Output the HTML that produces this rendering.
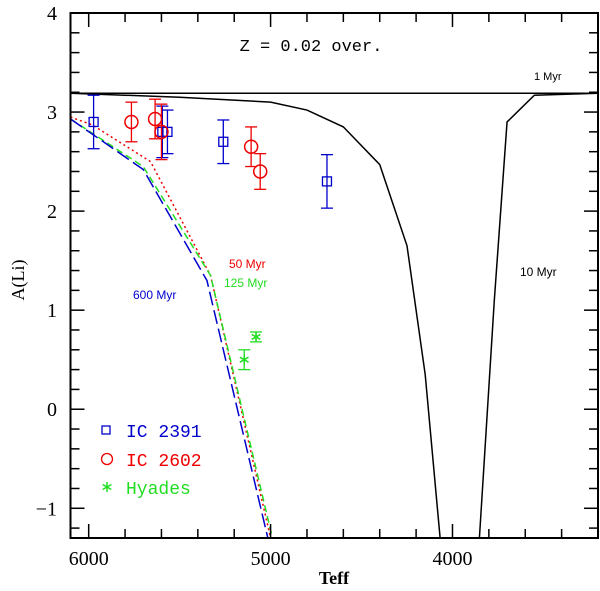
<!DOCTYPE html>
<html><head><meta charset="utf-8"><style>body{margin:0;background:#fff}svg{display:block}</style></head>
<body>
<svg id="c" width="600" height="591" font-family="Liberation Serif, serif"></svg>
<script>
const xTicks=[6000,5000,4000];
const yTicks=[-1,0,1,2,3,4];
const line1Myr=[[6100,3.19],[3200,3.19]];
const line10Myr=[[6100,3.19],[5500,3.15],[5000,3.1],[4800,3.02],[4600,2.85],[4400,2.47],[4250,1.65],[4150,0.35],[4068,-1.3],[3852,-1.3],[3770,1.1],[3700,2.9],[3550,3.17],[3200,3.19]];
const line50Myr=[[6100,2.95],[5980,2.87],[5660,2.5],[5330,1.35],[5000,-1.3]];
const line125Myr=[[6100,2.93],[5700,2.45],[5330,1.35],[4990,-1.3]];
const line600Myr=[[6100,2.93],[5700,2.42],[5350,1.3],[5015,-1.3]];
const ic2391=[[5973,2.9,0.27],[5595,2.8,0.26],[5567,2.8,0.22],[5260,2.7,0.22],[4690,2.3,0.27]];
const ic2602=[[5765,2.9,0.2],[5635,2.93,0.2],[5600,2.8,0.28],[5107,2.65,0.2],[5057,2.4,0.18]];
const hyades=[[5145,0.5,0.1],[5080,0.73,0.05]];
const X0=70.5,X1=598,Y0=13,Y1=538;
const sx=t=>X0+(6100-t)/(6100-3200)*(X1-X0);
const sy=v=>Y0+(4-v)/(5.3)*(Y1-Y0);
const svg=document.getElementById('c');const NS='http://www.w3.org/2000/svg';
function mk(tag,at,txt){const e=document.createElementNS(NS,tag);for(const k in at)e.setAttribute(k,at[k]);if(txt!=null)e.textContent=txt;svg.appendChild(e);return e;}
const cp=mk('clipPath',{id:'cp'});const r=document.createElementNS(NS,'rect');r.setAttribute('x',X0);r.setAttribute('y',Y0);r.setAttribute('width',X1-X0);r.setAttribute('height',Y1-Y0);cp.appendChild(r);
function line(pts,col,dash,name,w){const e=mk('polyline',{points:pts.map(p=>sx(p[0])+','+sy(p[1])).join(' '),fill:'none',stroke:col,'stroke-width':w||1.5,'stroke-dasharray':dash||'','clip-path':'url(#cp)'});

}
line(line1Myr,'#000','','line-1myr',1.5);
line(line10Myr,'#000','','line-10myr',1.5);
line(line50Myr,'#e00','2,3','line-50myr',1.5);
line(line125Myr,'#2d2','7,4','line-125myr',1.5);
line(line600Myr,'#00c','14,5','line-600myr',1.5);
function errbar(x,y,e,col){const X=sx(x);mk('line',{x1:X,x2:X,y1:sy(y-e),y2:sy(y+e),stroke:col,'stroke-width':1.3});[y-e,y+e].forEach(v=>mk('line',{x1:X-6,x2:X+6,y1:sy(v),y2:sy(v),stroke:col,'stroke-width':1.3}));}
ic2391.forEach(d=>{errbar(d[0],d[1],d[2],'#00c');const e=mk('rect',{x:sx(d[0])-4.5,y:sy(d[1])-4.5,width:9,height:9,fill:'none',stroke:'#00c','stroke-width':1.3});

});
ic2602.forEach(d=>{errbar(d[0],d[1],d[2],'#e00');const e=mk('circle',{cx:sx(d[0]),cy:sy(d[1]),r:6.5,fill:'none',stroke:'#e00','stroke-width':1.5});

});
function star(cx,cy,col){for(let a=0;a<3;a++){const an=a*Math.PI/3+Math.PI/2;mk('line',{x1:cx-5*Math.cos(an),y1:cy-5*Math.sin(an),x2:cx+5*Math.cos(an),y2:cy+5*Math.sin(an),stroke:col,'stroke-width':1.5});}}
hyades.forEach(d=>{errbar(d[0],d[1],d[2],'#2d2');star(sx(d[0]),sy(d[1]),'#2d2');});
const fr=mk('rect',{x:X0,y:Y0,width:X1-X0,height:Y1-Y0,fill:'none',stroke:'#000','stroke-width':2});


for(let t=6000;t>=3200;t-=200){const X=sx(t),L=(t%1000===0)?14:9;mk('line',{x1:X,x2:X,y1:Y1,y2:Y1-L,stroke:'#000','stroke-width':1.5});mk('line',{x1:X,x2:X,y1:Y0,y2:Y0+L,stroke:'#000','stroke-width':1.5});}
for(let i=-6;i<=20;i++){const v=i/5;const Y=sy(v);if(Y>Y1||Y<Y0)continue;const L=(i%5===0)?14:9;mk('line',{x1:X0,x2:X0+L,y1:Y,y2:Y,stroke:'#000','stroke-width':1.5});mk('line',{x1:X1,x2:X1-L,y1:Y,y2:Y,stroke:'#000','stroke-width':1.5});}
xTicks.forEach(t=>{const e=mk('text',{x:sx(t),y:565,'text-anchor':'middle','font-size':20},String(t));

});
yTicks.forEach(v=>{const e=mk('text',{x:57,y:sy(v)+7,'text-anchor':'end','font-size':20},v<0?'\u2212'+(-v):String(v));

});
function lab(x,y,t,col,fs,name,extra){const e=mk('text',Object.assign({x:x,y:y,fill:col,'font-size':fs},extra||{}),t);

return e;}
lab(334,584,'Teff','#000',18,'x-axis-title',{'text-anchor':'middle','font-weight':'bold'});
lab(24,280,'A(Li)','#000',18,'y-axis-title',{'text-anchor':'middle',transform:'rotate(-90 24 280)'});
lab(311,51,'Z = 0.02 over.','#000',17,'model-title',{'text-anchor':'middle','font-family':'Liberation Mono, monospace'});
lab(534,80,'1 Myr','#000',11,'label-1myr',{'font-family':'Liberation Sans, sans-serif'});
lab(520,276,'10 Myr','#000',12,'label-10myr',{'font-family':'Liberation Sans, sans-serif'});
lab(229,268,'50 Myr','#e00',12,'label-50myr',{'font-family':'Liberation Sans, sans-serif'});
lab(224,287,'125 Myr','#2d2',12,'label-125myr',{'font-family':'Liberation Sans, sans-serif'});
lab(133,299,'600 Myr','#00c',12,'label-600myr',{'font-family':'Liberation Sans, sans-serif'});
mk('rect',{x:102,y:426,width:8,height:8,fill:'none',stroke:'#00c','stroke-width':1.3});
mk('circle',{cx:107,cy:459,r:5.5,fill:'none',stroke:'#e00','stroke-width':1.3});
star(107,487,'#2d2');
lab(126,437,'IC 2391','#00c',18,'legend-ic2391',{'font-family':'Liberation Mono, monospace'});
lab(126,466,'IC 2602','#e00',18,'legend-ic2602',{'font-family':'Liberation Mono, monospace'});
lab(126,494,'Hyades','#2d2',18,'legend-hyades',{'font-family':'Liberation Mono, monospace'});
</script>
</body></html>
